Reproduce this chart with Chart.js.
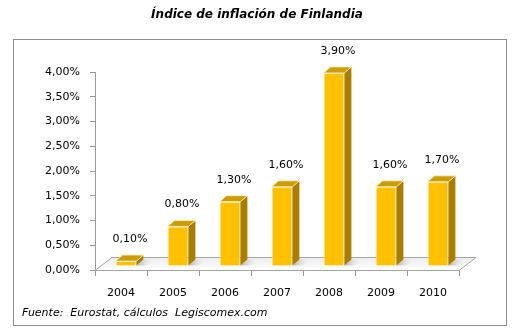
<!DOCTYPE html>
<html>
<head>
<meta charset="utf-8">
<script src="https://cdn.jsdelivr.net/npm/chart.js@4/dist/chart.umd.min.js"></script>
<style>
  html, body { margin: 0; padding: 0; background: #fff; }
  #wrap { width: 514px; height: 332px; position: relative; }
</style>
</head>
<body>
<div id="wrap"><canvas id="c" width="514" height="332"></canvas></div>
<script>
// datos
const years = ['2004', '2005', '2006', '2007', '2008', '2009', '2010'];
const inflation = [0.1, 0.8, 1.3, 1.6, 3.9, 1.6, 1.7];
const titleText = 'Índice de inflación de Finlandia';
const sourceText = 'Fuente:  Eurostat, cálculos  Legiscomex.com';

const FONT = '"DejaVu Sans", Verdana, sans-serif';
const fmt = v => v.toFixed(2).replace('.', ',') + '%';

// desplazamiento de las barras sobre el "piso" 3D
const SHIFT = { x: 5, y: -4 };
const DEPTH = { x: 7, y: -6 };
const FLOOR = { x: 17, y: -13 };

const bar3d = {
    id: 'bar3d',
    beforeDraw(chart) {
        const ctx = chart.ctx;
        ctx.save();
        ctx.fillStyle = '#fff';
        ctx.fillRect(0, 0, chart.width, chart.height);
        // marco
        ctx.strokeStyle = '#8c8c8c';
        ctx.lineWidth = 1;
        ctx.strokeRect(13.5, 39.5, 493, 286);
        // titulo
        ctx.fillStyle = '#000';
        ctx.font = 'italic bold 12px ' + FONT;
        ctx.textAlign = 'center';
        ctx.textBaseline = 'middle';
        ctx.fillText(titleText, 257, 15);
        // fuente
        ctx.font = 'italic 11px ' + FONT;
        ctx.textAlign = 'left';
        ctx.fillText(sourceText, 22, 313);
        ctx.restore();
    },
    beforeDatasetsDraw(chart) {
        const ctx = chart.ctx, a = chart.chartArea;
        ctx.save();
        // piso
        const g = ctx.createLinearGradient(0, a.bottom + FLOOR.y, 0, a.bottom);
        g.addColorStop(0, '#ececec');
        g.addColorStop(1, '#ffffff');
        ctx.beginPath();
        ctx.moveTo(a.left, a.bottom);
        ctx.lineTo(a.left + FLOOR.x, a.bottom + FLOOR.y);
        ctx.lineTo(a.right + FLOOR.x, a.bottom + FLOOR.y);
        ctx.lineTo(a.right, a.bottom);
        ctx.closePath();
        ctx.fillStyle = g;
        ctx.fill();
        // sombras de las barras
        chart.getDatasetMeta(0).data.forEach(b => {
            const x0 = b.x - b.width / 2 + SHIFT.x + b.width;
            const sg = ctx.createLinearGradient(x0, 0, x0 + 16, 0);
            sg.addColorStop(0, 'rgba(120,120,120,0.55)');
            sg.addColorStop(1, 'rgba(200,200,200,0)');
            ctx.fillStyle = sg;
            ctx.beginPath();
            ctx.moveTo(x0, b.base + SHIFT.y);
            ctx.lineTo(x0 + DEPTH.x, b.base + SHIFT.y + DEPTH.y);
            ctx.lineTo(x0 + DEPTH.x + 14, b.base + SHIFT.y + DEPTH.y);
            ctx.lineTo(x0 + 10, b.base + SHIFT.y);
            ctx.closePath();
            ctx.fill();
        });
        ctx.strokeStyle = '#a6a6a6';
        ctx.lineWidth = 1;
        ctx.beginPath();
        ctx.moveTo(a.left, a.bottom + 0.5);
        ctx.lineTo(a.left + FLOOR.x, a.bottom + FLOOR.y + 0.5);
        ctx.lineTo(a.right + FLOOR.x, a.bottom + FLOOR.y + 0.5);
        ctx.lineTo(a.right, a.bottom + 0.5);
        ctx.stroke();
        ctx.restore();
        ctx.save();
        ctx.translate(SHIFT.x, SHIFT.y);
    },
    afterDatasetsDraw(chart) {
        const ctx = chart.ctx;
        chart.getDatasetMeta(0).data.forEach((b, i) => {
            const l = b.x - b.width / 2, r = b.x + b.width / 2;
            // lateral
            ctx.fillStyle = '#aa7d00';
            ctx.beginPath();
            ctx.moveTo(r, b.base);
            ctx.lineTo(r, b.y);
            ctx.lineTo(r + DEPTH.x, b.y + DEPTH.y);
            ctx.lineTo(r + DEPTH.x, b.base + DEPTH.y);
            ctx.closePath();
            ctx.fill();
            // tapa
            ctx.fillStyle = '#cc9c00';
            ctx.beginPath();
            ctx.moveTo(l, b.y);
            ctx.lineTo(l + DEPTH.x, b.y + DEPTH.y);
            ctx.lineTo(r + DEPTH.x, b.y + DEPTH.y);
            ctx.lineTo(r, b.y);
            ctx.closePath();
            ctx.fill();
            ctx.strokeStyle = 'rgba(255,240,200,0.8)';
            ctx.lineWidth = 1;
            ctx.stroke();
            // etiqueta
            ctx.fillStyle = '#000';
            ctx.font = '11px ' + FONT;
            ctx.textAlign = 'center';
            ctx.textBaseline = 'middle';
            ctx.fillText(fmt(inflation[i]), b.x + 4, b.y - 22);
        });
        ctx.restore();
    }
};

new Chart(document.getElementById('c'), {
    type: 'bar',
    data: {
        labels: years,
        datasets: [{
            data: inflation,
            backgroundColor: '#ffc000',
            borderColor: 'rgba(255,235,180,0.9)',
            borderWidth: 1,
            barPercentage: 0.8,
            categoryPercentage: 0.5
        }]
    },
    options: {
        responsive: false,
        animation: false,
        layout: { padding: { top: 72, right: 55, bottom: 0, left: 0 } },
        plugins: {
            legend: { display: false },
            tooltip: { enabled: false }
        },
        scales: {
            x: {
                afterFit: s => { s.height = 62; },
                grid: { drawOnChartArea: false, tickLength: 6, color: '#999' },
                border: { color: '#a6a6a6' },
                ticks: { color: '#000', padding: 11, font: { family: FONT, size: 11 } }
            },
            y: {
                min: 0,
                max: 4,
                afterFit: s => { s.width = 95; },
                grid: { drawOnChartArea: false, tickLength: 5, color: '#999' },
                border: { color: '#999' },
                ticks: {
                    stepSize: 0.5,
                    color: '#000',
                    padding: 10,
                    font: { family: FONT, size: 11 },
                    callback: v => fmt(v)
                }
            }
        }
    },
    plugins: [bar3d]
});
</script>
</body>
</html>
